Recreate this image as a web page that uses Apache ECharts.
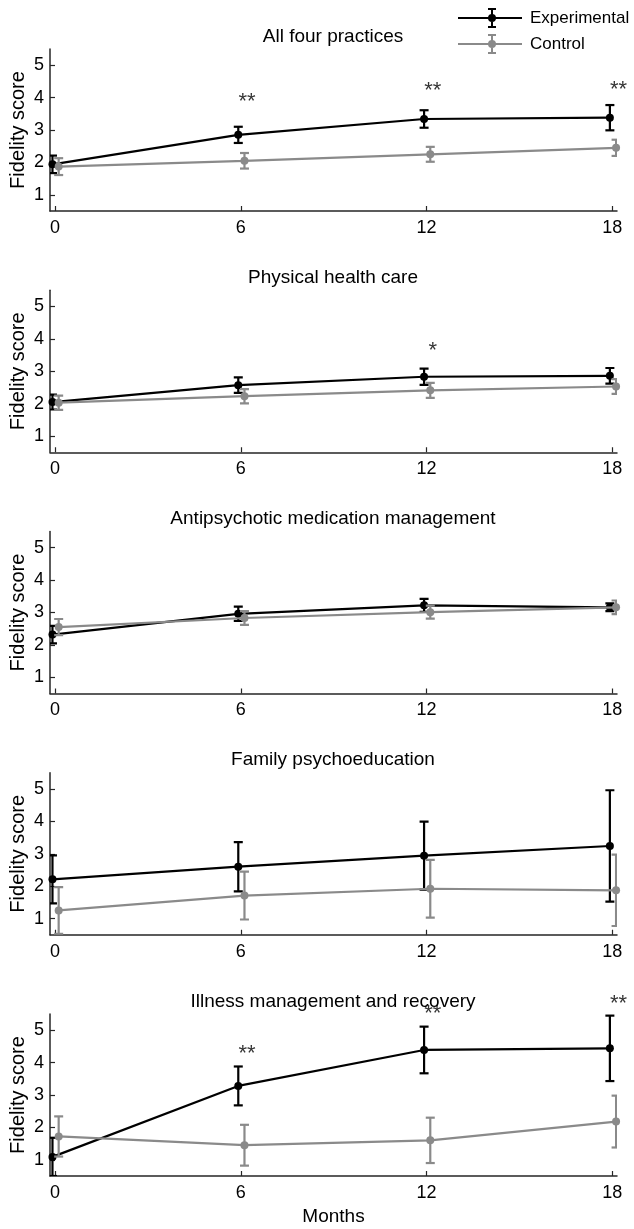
<!DOCTYPE html>
<html><head><meta charset="utf-8">
<script src="https://cdn.jsdelivr.net/npm/echarts@6/dist/echarts.min.js"></script>
<style>html,body{margin:0;padding:0;background:#fff}#chart{width:634px;height:1229px}</style>
</head><body><div id="chart"></div>
<script>
// ---------- data ----------
const months = [0, 6, 12, 18];
const xTicks = [0, 6, 12, 18];
const yTicks = [1, 2, 3, 4, 5];
const panelTitles = ['All four practices', 'Physical health care', 'Antipsychotic medication management', 'Family psychoeducation', 'Illness management and recovery'];

const expMean1 = [1.94, 2.85, 3.34, 3.38];
const expErr1  = [0.27, 0.25, 0.27, 0.39];
const ctlMean1 = [1.87, 2.05, 2.25, 2.45];
const ctlErr1  = [0.26, 0.24, 0.23, 0.25];
const sig1  = ['', '**', '**', '**'];
const sigY1 = [null, 3.87, 4.20, 4.23];

const expMean2 = [2.05, 2.57, 2.83, 2.86];
const expErr2  = [0.23, 0.24, 0.25, 0.24];
const ctlMean2 = [2.03, 2.23, 2.41, 2.53];
const ctlErr2  = [0.22, 0.22, 0.23, 0.23];
const sig2  = ['', '', '*', ''];
const sigY2 = [null, null, 3.63, null];

const expMean3 = [2.32, 2.96, 3.22, 3.16];
const expErr3  = [0.27, 0.22, 0.20, 0.12];
const ctlMean3 = [2.55, 2.83, 3.01, 3.16];
const ctlErr3  = [0.25, 0.21, 0.20, 0.21];
const sig3  = ['', '', '', ''];
const sigY3 = [null, null, null, null];

const expMean4 = [2.21, 2.60, 2.94, 3.24];
const expErr4  = [0.74, 0.76, 1.05, 1.72];
const ctlMean4 = [1.25, 1.71, 1.92, 1.87];
const ctlErr4  = [0.72, 0.74, 0.89, 1.10];
const sig4  = ['', '', '', ''];
const sigY4 = [null, null, null, null];

const expMean5 = [1.09, 3.28, 4.39, 4.44];
const expErr5  = [0.59, 0.60, 0.72, 1.01];
const ctlMean5 = [1.72, 1.45, 1.60, 2.18];
const ctlErr5  = [0.62, 0.63, 0.70, 0.80];
const sig5  = ['', '**', '**', '**'];
const sigY5 = [null, 4.26, 5.50, 5.80];

// ---------- build ----------
const panels = [
  {expMean: expMean1, expErr: expErr1, ctlMean: ctlMean1, ctlErr: ctlErr1, sig: sig1, sigY: sigY1},
  {expMean: expMean2, expErr: expErr2, ctlMean: ctlMean2, ctlErr: ctlErr2, sig: sig2, sigY: sigY2},
  {expMean: expMean3, expErr: expErr3, ctlMean: ctlMean3, ctlErr: ctlErr3, sig: sig3, sigY: sigY3},
  {expMean: expMean4, expErr: expErr4, ctlMean: ctlMean4, ctlErr: ctlErr4, sig: sig4, sigY: sigY4},
  {expMean: expMean5, expErr: expErr5, ctlMean: ctlMean5, ctlErr: ctlErr5, sig: sig5, sigY: sigY5}
];

const FONT = "'Liberation Sans', Arial, Helvetica, sans-serif";
const EXP_COLOR = '#000000';
const CTL_COLOR = '#8a8a8a';
const AXIS_COLOR = '#262626';
const EXP_OFF = -0.08, CTL_OFF = 0.12, SIG_OFF = 0.2;
const GRID_LEFT = 49, GRID_RIGHT = 17, GRID_H = 162, GRID_TOP0 = 49, GRID_STEP = 241.25;
const PLOT_CX = GRID_LEFT + (634 - GRID_LEFT - GRID_RIGHT) / 2;

function errorBars(idx, name, means, errs, off, color, z) {
  return {
    type: 'custom', name: name, xAxisIndex: idx, yAxisIndex: idx, clip: true, z: z, silent: true,
    encode: {x: 0, y: 1},
    data: months.map((m, i) => [m + off, means[i], errs[i]]),
    renderItem: function (params, api) {
      const x = api.value(0), y = api.value(1), e = api.value(2);
      const hi = api.coord([x, y + e]), lo = api.coord([x, y - e]);
      const hw = 4.5;
      const st = {stroke: color, lineWidth: 2.2};
      return {type: 'group', children: [
        {type: 'line', shape: {x1: hi[0], y1: hi[1], x2: lo[0], y2: lo[1]}, style: st},
        {type: 'line', shape: {x1: hi[0] - hw, y1: hi[1], x2: hi[0] + hw, y2: hi[1]}, style: st},
        {type: 'line', shape: {x1: lo[0] - hw, y1: lo[1], x2: lo[0] + hw, y2: lo[1]}, style: st}
      ]};
    }
  };
}
function meanLine(idx, name, means, off, color, z) {
  return {
    type: 'line', name: name, xAxisIndex: idx, yAxisIndex: idx, z: z,
    data: months.map((m, i) => [m + off, means[i]]),
    symbol: 'circle', symbolSize: 8, showSymbol: true,
    lineStyle: {color: color, width: 2.2}, itemStyle: {color: color},
    emphasis: {disabled: true}
  };
}

const grids = [], xAxes = [], yAxes = [], titles = [], series = [];
panels.forEach((p, i) => {
  const top = GRID_TOP0 + i * GRID_STEP;
  grids.push({left: GRID_LEFT, right: GRID_RIGHT, top: top, height: GRID_H, containLabel: false});
  titles.push({text: panelTitles[i], left: PLOT_CX, top: top - 22, textAlign: 'center', padding: 0,
    textStyle: {fontFamily: FONT, fontSize: 19, fontWeight: 'normal', color: '#000'}});
  xAxes.push({
    type: 'value', gridIndex: i, min: -0.16, max: 18.15,
    splitLine: {show: false},
    axisLine: {show: true, onZero: false, lineStyle: {color: AXIS_COLOR, width: 1.5}},
    axisTick: {show: true, inside: true, length: 5, customValues: xTicks, lineStyle: {color: AXIS_COLOR, width: 1.2}},
    axisLabel: {show: true, customValues: xTicks, margin: 8, fontFamily: FONT, fontSize: 18, color: '#000'},
    name: i === panels.length - 1 ? 'Months' : '', nameLocation: 'middle', nameGap: 31, nameMoveOverlap: false,
    nameTextStyle: {fontFamily: FONT, fontSize: 19, color: '#000'}
  });
  yAxes.push({
    type: 'value', gridIndex: i, min: 0.5, max: 5.5,
    splitLine: {show: false},
    axisLine: {show: true, onZero: false, lineStyle: {color: AXIS_COLOR, width: 1.5}},
    axisTick: {show: true, inside: true, length: 5, customValues: yTicks, lineStyle: {color: AXIS_COLOR, width: 1.2}},
    axisLabel: {show: true, customValues: yTicks, margin: 6, fontFamily: FONT, fontSize: 18, color: '#000'},
    name: 'Fidelity score', nameLocation: 'middle', nameGap: 22, nameMoveOverlap: false,
    nameTextStyle: {fontFamily: FONT, fontSize: 20, color: '#000'}
  });
  series.push(errorBars(i, 'expErr' + i, p.expMean, p.expErr, EXP_OFF, EXP_COLOR, 2));
  series.push(meanLine(i, 'Experimental', p.expMean, EXP_OFF, EXP_COLOR, 3));
  series.push(errorBars(i, 'ctlErr' + i, p.ctlMean, p.ctlErr, CTL_OFF, CTL_COLOR, 4));
  series.push(meanLine(i, 'Control', p.ctlMean, CTL_OFF, CTL_COLOR, 5));
  const sigData = [];
  months.forEach((m, k) => { if (p.sig[k]) sigData.push([m + SIG_OFF, p.sigY[k], p.sig[k]]); });
  if (sigData.length) {
    series.push({
      type: 'scatter', name: 'sig' + i, xAxisIndex: i, yAxisIndex: i, clip: false, silent: true, z: 6,
      symbol: 'circle', symbolSize: 2, itemStyle: {color: 'rgba(0,0,0,0)'},
      data: sigData,
      labelLayout: {hideOverlap: false},
      label: {show: true, position: 'inside', offset: [0, 5], formatter: (pr) => pr.value[2],
        fontFamily: FONT, fontSize: 22, color: '#000'}
    });
  }
});

const ICON = 'path://M0 9L64 9L64 11L0 11Z M33 1L35 1L35 19L33 19Z M30 0L38 0L38 2L30 2Z M30 18L38 18L38 20L30 20Z M30 10A4 4 0 1 1 38 10A4 4 0 1 1 30 10Z';

const option = {
  animation: false,
  backgroundColor: '#fff',
  title: titles,
  legend: {
    data: ['Experimental', 'Control'], orient: 'vertical', left: 458, top: 8, padding: 0,
    itemWidth: 64, itemHeight: 20, itemGap: 6, icon: ICON, selectedMode: false,
    textStyle: {fontFamily: FONT, fontSize: 17, color: '#000', padding: [0, 0, 0, 3]}
  },
  grid: grids, xAxis: xAxes, yAxis: yAxes, series: series
};
const chart = echarts.init(document.getElementById('chart'), null, {renderer: 'canvas'});
chart.setOption(option);
</script></body></html>
